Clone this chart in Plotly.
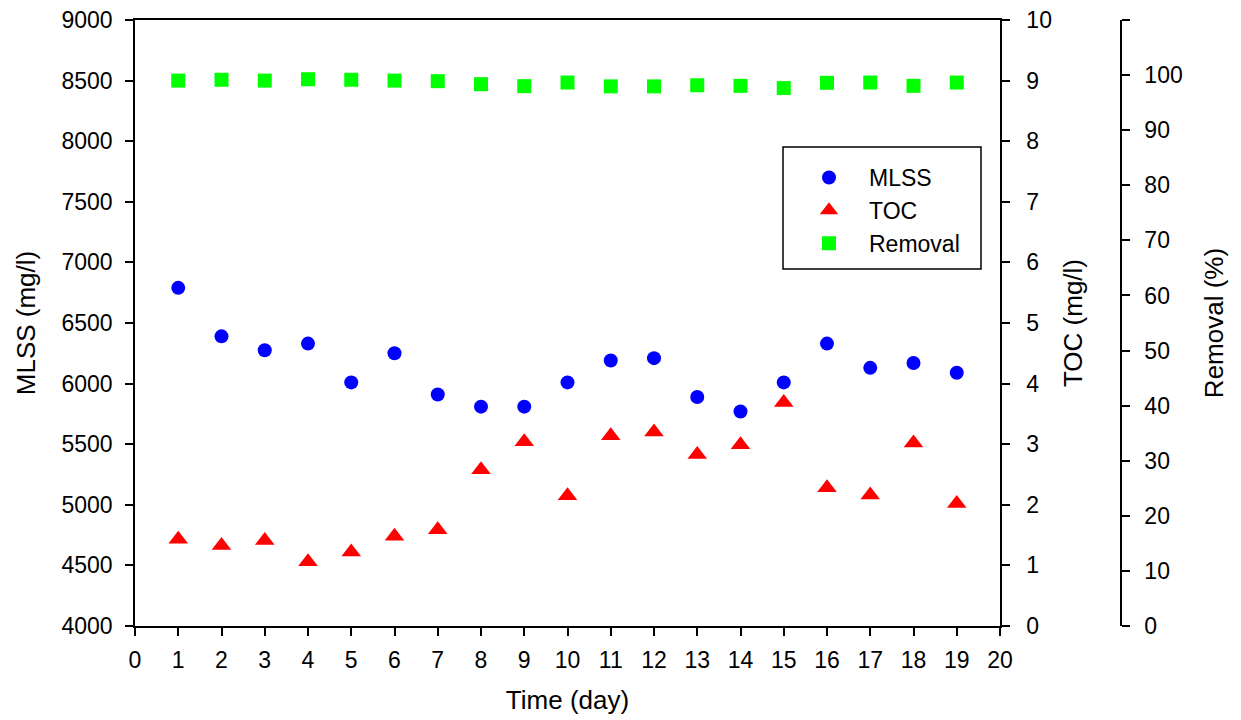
import plotly.graph_objects as go

days = list(range(1, 20))
mlss = [6790, 6390, 6275, 6330, 6010, 6250, 5910, 5810, 5810, 6010,
        6190, 6210, 5890, 5770, 6010, 6330, 6130, 6170, 6090]
toc = [1.43, 1.33, 1.41, 1.06, 1.22, 1.48, 1.59, 2.58, 3.04, 2.15,
       3.14, 3.20, 2.83, 2.99, 3.69, 2.28, 2.16, 3.02, 2.02]
removal = [99.0, 99.15, 99.0, 99.25, 99.15, 99.0, 98.9, 98.35, 98.0, 98.65,
           97.95, 97.95, 98.15, 98.05, 97.65, 98.6, 98.65, 98.05, 98.65]

x_ticks = list(range(0, 21))
mlss_ticks = list(range(4000, 9001, 500))
toc_ticks = list(range(0, 11))
rem_ticks = list(range(0, 111, 10))
rem_labels = [str(v) if v <= 100 else "" for v in rem_ticks]

FONT = "Liberation Sans, Arial, sans-serif"
# page body has an 8px margin, so the figure is offset by (8, 8)
W_PLOT = 1233 - 127 - 60
XDOM = 865 / W_PLOT
Y3POS = (1121 - 135) / W_PLOT

fig = go.Figure()
fig.add_trace(go.Scatter(x=days, y=mlss, mode="markers", name="MLSS",
                         marker=dict(symbol="circle", size=14, color="#0000FF"),
                         yaxis="y"))
fig.add_trace(go.Scatter(x=days, y=toc, mode="markers", name="TOC",
                         marker=dict(symbol="triangle-up", size=17, color="#FF0000"),
                         yaxis="y2"))
fig.add_trace(go.Scatter(x=days, y=removal, mode="markers", name="Removal",
                         marker=dict(symbol="square", size=14, color="#00FF00"),
                         yaxis="y3"))

axis_common = dict(showgrid=False, zeroline=False, showline=True, linecolor="black",
                   linewidth=1.5, ticks="outside", ticklen=8, tickwidth=1.5,
                   tickcolor="black", automargin=False, ticklabeloverflow="allow",
                   tickfont=dict(family=FONT, size=23, color="black"))

fig.update_layout(
    width=1233, height=712,
    margin=dict(l=127, r=60, t=12, b=94),
    paper_bgcolor="white", plot_bgcolor="white",
    font=dict(family=FONT, color="black"),
    xaxis=dict(domain=[0, XDOM], range=[0, 20], tickvals=x_ticks, mirror=True,
               title=dict(text="Time (day)", font=dict(size=26), standoff=18),
               ticklabelstandoff=5, **axis_common),
    yaxis=dict(range=[4000, 9000], tickvals=mlss_ticks,
               title=dict(text="MLSS (mg/l)", font=dict(size=26), standoff=18),
               ticklabelstandoff=8, **axis_common),
    yaxis2=dict(range=[0, 10], tickvals=toc_ticks, overlaying="y", side="right", anchor="x",
                title=dict(text="TOC (mg/l)", font=dict(size=26), standoff=13),
                ticklabelstandoff=12, **axis_common),
    yaxis3=dict(range=[0, 110], tickvals=rem_ticks, ticktext=rem_labels,
                overlaying="y", side="right", anchor="free", position=Y3POS,
                title=dict(text="Removal (%)", font=dict(size=26), standoff=22),
                ticklabelstandoff=10, **axis_common),
    showlegend=True,
    legend=dict(x=(789 - 135) / W_PLOT, y=(626 - 156) / 606, xanchor="left", yanchor="top",
                bgcolor="rgba(0,0,0,0)", borderwidth=0, itemwidth=70,
                font=dict(family=FONT, size=23, color="black")),
    shapes=[dict(type="rect", xref="paper", yref="paper",
                 x0=(783 - 135) / W_PLOT, x1=(981 - 135) / W_PLOT,
                 y0=(626 - 269) / 606, y1=(626 - 147) / 606,
                 line=dict(color="black", width=1.5), fillcolor="rgba(0,0,0,0)")],
)

fig.write_html("out.html")
